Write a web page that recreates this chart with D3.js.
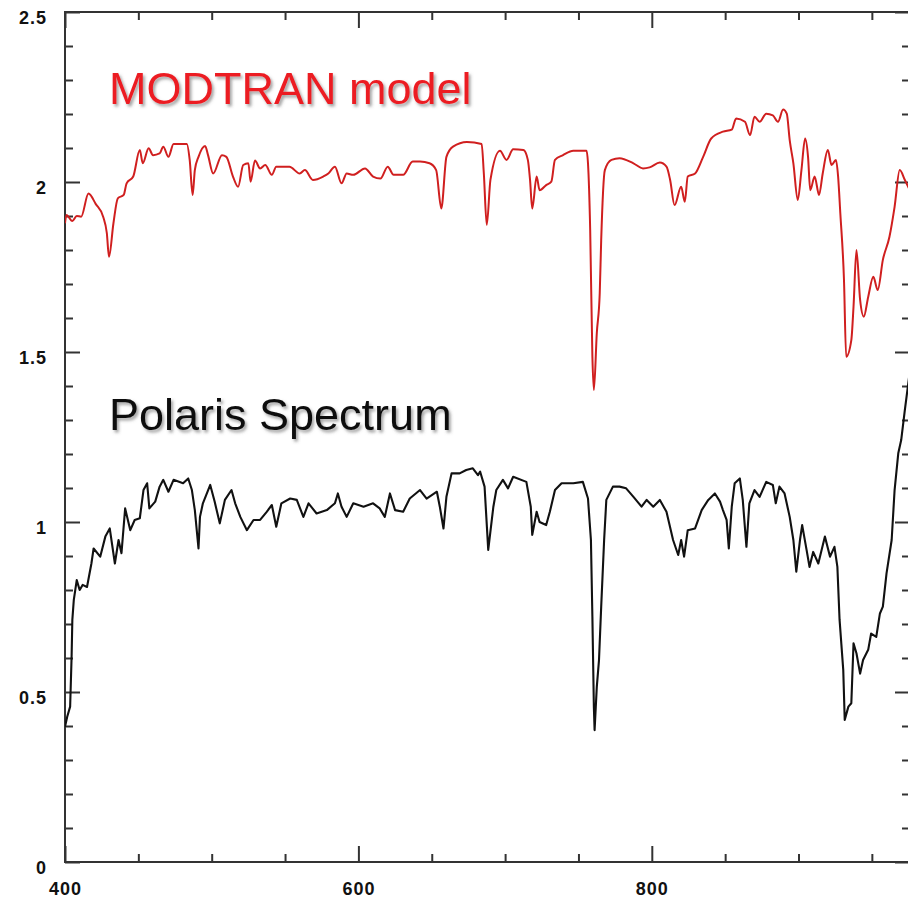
<!DOCTYPE html>
<html>
<head>
<meta charset="utf-8">
<script src="https://cdn.jsdelivr.net/npm/d3@7/dist/d3.min.js"></script>
<style>
  html, body { margin: 0; padding: 0; background: #fff; }
  svg { display: block; }
</style>
</head>
<body>
<svg id="chart" width="908" height="902"></svg>
<script>
// ---------- DATA ----------
const modelWl = [400,401,405,408,411,416,421,426,428.5,430,433,436,440,442,446.5,451,453,457,460,464.5,467,470.5,474,483,485,487,488.5,491,495.5,497.5,501,507,510,514.5,518,521.5,525,526.5,529.5,533,536.5,541,544,553,560,563.5,569,576,579.5,584,588.5,592,596.5,604.5,610,615,620,624,630.5,637,642,648.5,653,656.5,660,664.5,674,684,685.5,687.5,690,696.5,701,705.5,712.5,715.5,717,718.5,721.5,723.5,728,731.5,734,739.5,746.5,755.5,756.5,758,759.5,760.5,762.5,764.5,765.5,768,772.5,778,787.5,794,798.5,805.5,810,812.5,815.5,820,822.5,824.5,829.5,835,840.5,848.5,854.5,857.5,863.5,867,870,873.5,878,882.5,886,889.5,892,894,896.5,899.5,902,904.5,906.5,908,911,914,916.5,920,922.5,925.5,927,928.5,931,932.5,936,937.5,939.5,942,944.5,947.5,951,954,957.5,962,965.5,969,972.5,976];
const modelVal = [1.879,1.903,1.885,1.900,1.898,1.966,1.935,1.898,1.850,1.780,1.878,1.952,1.962,1.996,2.016,2.094,2.055,2.099,2.079,2.084,2.104,2.074,2.112,2.112,2.065,1.962,2.035,2.074,2.106,2.079,2.025,2.079,2.074,2.016,1.986,2.050,2.055,2.001,2.063,2.040,2.050,2.021,2.045,2.045,2.025,2.035,2.006,2.016,2.025,2.045,1.996,2.025,2.021,2.040,2.016,2.010,2.045,2.021,2.021,2.060,2.060,2.055,2.035,1.922,2.074,2.104,2.118,2.112,2.025,1.874,2.006,2.092,2.065,2.096,2.094,2.065,2.006,1.922,2.016,1.976,1.991,2.001,2.065,2.079,2.092,2.092,2.055,1.859,1.486,1.388,1.555,1.672,1.829,2.035,2.065,2.070,2.055,2.040,2.043,2.057,2.045,2.006,1.932,1.986,1.942,2.016,2.025,2.074,2.128,2.148,2.154,2.187,2.177,2.138,2.192,2.177,2.201,2.196,2.177,2.213,2.201,2.123,2.055,1.947,2.035,2.128,2.074,1.976,2.016,1.962,2.025,2.094,2.050,2.065,2.016,1.908,1.712,1.486,1.535,1.633,1.800,1.653,1.604,1.662,1.721,1.682,1.771,1.839,1.927,2.035,2.006,1.975];

const polarisWl = [400,401.5,403.5,404.5,405,406,408,410,412,415,418,419.5,424,427.5,430.5,434,436.5,438.5,441,444.5,447.5,451,453.5,456,457.5,461.5,464.5,467,470.5,474,480.5,484,486.5,488.5,491,492,494,499,502,505.5,509,513.5,516,519.5,524,528.5,533,537.5,541,544,547.5,553.5,558,562.5,566,571.5,578.5,584,586,588.5,592,596.5,603.5,610,614.5,618,621.5,625,630.5,635,642,646.5,653.5,655.5,658,660,663.5,669,673.5,678,681.5,683,686,688.5,692,694,698.5,702,705.5,714.5,717.5,718.5,721.5,723.5,728,730.5,734,738.5,746.5,753,756.5,758.5,759.5,760.5,761,762.5,764,765.5,767.5,769,773.5,778,782.5,787.5,793,796.5,801,805.5,810,814.5,818,820,822,824.5,829.5,834,838.5,843,846.5,848.5,851,852.5,854.5,856.5,860,862,864.5,866.5,870,873.5,878,882.5,884.5,887,890.5,894,896.5,898.5,901,902.5,905.5,907.5,910,913.5,918,921.5,924.5,926.5,928,930.5,931.5,934,936,937.5,939.5,942,944,947.5,949.5,953,955.5,957.5,960,963.5,965.5,968,970,972.5,976];
const polarisVal = [0.398,0.427,0.457,0.604,0.712,0.771,0.829,0.800,0.815,0.809,0.878,0.922,0.898,0.957,0.981,0.878,0.947,0.908,1.040,0.976,1.006,1.011,1.094,1.114,1.040,1.060,1.104,1.124,1.089,1.124,1.114,1.128,1.094,1.035,0.922,1.015,1.055,1.109,1.060,0.996,1.065,1.094,1.055,1.015,0.976,1.006,1.006,1.030,1.050,0.986,1.055,1.069,1.065,1.015,1.055,1.025,1.035,1.055,1.084,1.045,1.015,1.055,1.045,1.055,1.040,1.015,1.084,1.035,1.030,1.069,1.094,1.069,1.089,1.045,0.981,1.074,1.143,1.143,1.153,1.158,1.138,1.148,1.104,0.918,1.045,1.094,1.124,1.099,1.133,1.118,1.045,0.962,1.030,1.000,0.991,1.030,1.094,1.114,1.114,1.118,1.069,0.947,0.721,0.457,0.388,0.515,0.594,0.751,0.947,1.065,1.104,1.104,1.099,1.074,1.045,1.065,1.045,1.065,1.030,0.947,0.903,0.947,0.898,0.976,0.981,1.035,1.065,1.084,1.060,1.035,1.006,0.922,1.045,1.114,1.128,1.065,0.927,1.055,1.094,1.074,1.118,1.109,1.055,1.104,1.084,1.015,0.947,0.854,0.947,0.991,0.918,0.868,0.912,0.878,0.957,0.898,0.927,0.868,0.712,0.565,0.418,0.457,0.467,0.643,0.614,0.554,0.594,0.624,0.672,0.662,0.731,0.751,0.849,0.947,1.094,1.202,1.241,1.330,1.447];

const xMajorTicks = [400, 600, 800];
const xMinorTicks = [450, 500, 550, 650, 700, 750, 850, 900, 950];
const yMajorTicks = [0, 0.5, 1, 1.5, 2, 2.5];
const yMinorTicks = [0.1,0.2,0.3,0.4,0.6,0.7,0.8,0.9,1.1,1.2,1.3,1.4,1.6,1.7,1.8,1.9,2.1,2.2,2.3,2.4];
const labels = [
  { text: "MODTRAN model", color: "#ec1c24", wl: 430, val: 2.23 },
  { text: "Polaris Spectrum", color: "#111111", wl: 430, val: 1.27 }
];

// ---------- LAYOUT ----------
const pLeft = 65, pRight = 910, pTop = 12, pBottom = 862;
const svg = d3.select("#chart");
const x = d3.scaleLinear().domain([400, 976]).range([pLeft, pRight]);
const y = d3.scaleLinear().domain([0, 2.5]).range([pBottom, pTop]);

const defs = svg.append("defs");
const f = defs.append("filter").attr("id", "shadow")
  .attr("x", "-5%").attr("y", "-20%").attr("width", "115%").attr("height", "150%");
f.append("feDropShadow").attr("dx", 2).attr("dy", 2.5).attr("stdDeviation", 1.6)
  .attr("flood-color", "#555").attr("flood-opacity", 0.55);
defs.append("clipPath").attr("id", "clip").append("rect")
  .attr("x", pLeft).attr("y", pTop).attr("width", pRight - pLeft).attr("height", pBottom - pTop);

const axisColor = "#333";
const tickFont = "bold 18px 'Liberation Sans', Arial, sans-serif";

function styleAxis(g) {
  g.select(".domain").remove();
  g.selectAll(".tick line").attr("stroke", axisColor).attr("stroke-width", 2);
  g.selectAll("text").style("font", tickFont).attr("fill", "#111").attr("letter-spacing", "1px");
}

// bottom axis
svg.append("g").attr("transform", `translate(0,${pBottom})`)
  .call(d3.axisBottom(x).tickValues(xMajorTicks).tickSize(-16).tickPadding(20).tickFormat(d3.format("d")))
  .call(styleAxis);
svg.append("g").attr("transform", `translate(0,${pBottom})`)
  .call(d3.axisBottom(x).tickValues(xMinorTicks).tickSize(-8).tickFormat(""))
  .call(styleAxis);
// top axis
svg.append("g").attr("transform", `translate(0,${pTop})`)
  .call(d3.axisTop(x).tickValues(xMajorTicks).tickSize(-16).tickFormat(""))
  .call(styleAxis);
svg.append("g").attr("transform", `translate(0,${pTop})`)
  .call(d3.axisTop(x).tickValues(xMinorTicks).tickSize(-8).tickFormat(""))
  .call(styleAxis);
// left axis
svg.append("g").attr("transform", `translate(${pLeft},0)`)
  .call(d3.axisLeft(y).tickValues(yMajorTicks).tickSize(-15).tickPadding(18).tickFormat(d3.format("")))
  .call(styleAxis)
  .call(g => g.selectAll("text").attr("dy", "0.62em"));
svg.append("g").attr("transform", `translate(${pLeft},0)`)
  .call(d3.axisLeft(y).tickValues(yMinorTicks).tickSize(-8).tickFormat(""))
  .call(styleAxis);
// right axis
svg.append("g").attr("transform", `translate(${pRight},0)`)
  .call(d3.axisRight(y).tickValues(yMajorTicks).tickSize(-15).tickFormat(""))
  .call(styleAxis);
svg.append("g").attr("transform", `translate(${pRight},0)`)
  .call(d3.axisRight(y).tickValues(yMinorTicks).tickSize(-8).tickFormat(""))
  .call(styleAxis);

// frame
svg.append("rect").attr("x", pLeft).attr("y", pTop)
  .attr("width", pRight - pLeft).attr("height", pBottom - pTop)
  .attr("fill", "none").attr("stroke", axisColor).attr("stroke-width", 2);

// lines
const modelLine = d3.line().x(d => x(d[0])).y(d => y(d[1])).curve(d3.curveMonotoneX);
const polarisLine = d3.line().x(d => x(d[0])).y(d => y(d[1]));
const modelData = modelWl.map((w, i) => [w, modelVal[i]]);
const polarisData = polarisWl.map((w, i) => [w, polarisVal[i]]);

const plot = svg.append("g").attr("clip-path", "url(#clip)");
plot.append("path").datum(modelData).attr("d", modelLine)
  .attr("fill", "none").attr("stroke", "#d01f1f").attr("stroke-width", 2)
  .attr("stroke-linejoin", "round");
plot.append("path").datum(polarisData).attr("d", polarisLine)
  .attr("fill", "none").attr("stroke", "#111").attr("stroke-width", 2.1)
  .attr("stroke-linejoin", "round");

// labels
svg.selectAll("text.lbl").data(labels).join("text")
  .attr("class", "lbl")
  .attr("x", d => x(d.wl))
  .attr("y", d => y(d.val))
  .attr("fill", d => d.color)
  .attr("filter", "url(#shadow)")
  .style("font", "45px 'Liberation Sans', Arial, sans-serif")
  .text(d => d.text);
</script>
</body>
</html>
